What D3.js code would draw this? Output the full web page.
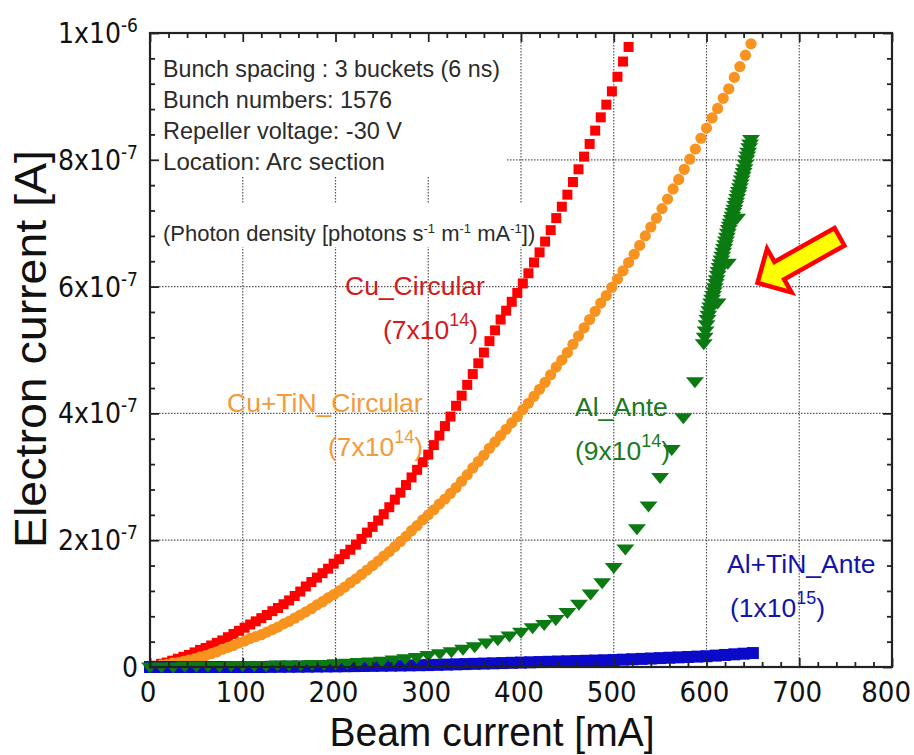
<!DOCTYPE html>
<html>
<head>
<meta charset="utf-8">
<script src="https://cdn.jsdelivr.net/npm/d3@7"></script>
<style>
  html, body { margin: 0; padding: 0; background: #ffffff; }
  svg { display: block; }
</style>
</head>
<body>
<svg id="chart" width="914" height="755"></svg>
<script>
// ---------------------------------------------------------------
// Electron current vs. beam current (values in units of 1e-7 A)
// ---------------------------------------------------------------

// Cu_Circular (red squares)
const cuCircularX = [0,6,12,18,24,30,36,42,48,54,60,66,72,78,84,90,96,102,108,114,120,126,132,138,144,150,156,162,168,174,180,186,192,198,204,210,216,222,228,234,240,246,252,258,264,270,276,282,288,294,300,306,312,318,324,330,336,342,348,354,360,366,372,378,384,390,396,402,408,414,420,426,432,438,444,450,456,462,468,474,480,486,492,498,504,510,516];
const cuCircularY = [0,0.02,0.05,0.07,0.10,0.13,0.16,0.19,0.23,0.27,0.30,0.34,0.38,0.42,0.47,0.52,0.57,0.62,0.67,0.72,0.77,0.82,0.88,0.93,0.99,1.05,1.12,1.19,1.27,1.34,1.41,1.48,1.55,1.63,1.70,1.78,1.85,1.93,2.02,2.12,2.21,2.31,2.41,2.52,2.64,2.75,2.87,2.99,3.11,3.23,3.35,3.50,3.65,3.80,3.95,4.12,4.28,4.45,4.62,4.79,4.96,5.14,5.31,5.48,5.62,5.76,5.90,6.05,6.21,6.38,6.54,6.71,6.89,7.08,7.26,7.45,7.65,7.85,8.05,8.25,8.46,8.67,8.87,9.08,9.31,9.55,9.78];

// Cu+TiN_Circular (orange circles)
const cuTinCircularX = [0,6,12,18,24,30,36,42,48,54,60,66,72,78,84,90,96,102,108,114,120,126,132,138,144,150,156,162,168,174,180,186,192,198,204,210,216,222,228,234,240,246,252,258,264,270,276,282,288,294,300,306,312,318,324,330,336,342,348,354,360,366,372,378,384,390,396,402,408,414,420,426,432,438,444,450,456,462,468,474,480,486,492,498,504,510,516,522,528,534,540,546,552,558,564,570,576,582,588,594,600,606,612,618,624,630,636,642,648];
const cuTinCircularY = [0,0.01,0.03,0.04,0.06,0.07,0.09,0.11,0.13,0.16,0.18,0.21,0.24,0.28,0.31,0.34,0.38,0.41,0.45,0.48,0.51,0.55,0.59,0.63,0.68,0.72,0.77,0.82,0.87,0.92,0.98,1.03,1.09,1.14,1.20,1.26,1.33,1.39,1.46,1.53,1.60,1.67,1.75,1.82,1.90,1.98,2.06,2.15,2.23,2.32,2.40,2.48,2.57,2.65,2.74,2.83,2.93,3.03,3.14,3.24,3.34,3.45,3.55,3.65,3.75,3.85,3.95,4.06,4.16,4.27,4.38,4.49,4.61,4.73,4.84,4.96,5.09,5.22,5.35,5.48,5.61,5.74,5.86,5.99,6.12,6.25,6.38,6.51,6.65,6.80,6.94,7.08,7.23,7.38,7.54,7.69,7.85,8.01,8.17,8.34,8.50,8.66,8.81,8.97,9.12,9.30,9.47,9.65,9.83];

// Al_Ante (green down-triangles): ramp, then a dense run above 598 mA
const alAnteX = [0,12.5,25,37.5,50,62.5,75,87.5,100,112.5,125,137.5,150,162.5,175,187.5,200,212.5,225,237.5,250,262.5,275,287.5,300,312.5,325,337.5,350,362.5,375,387.5,400,412.5,425,437.5,450,462.5,475,487.5,500,512.5,525,537.5,550,562.5,575,587.5,597,
  598,599,600,601,602,603,604,605,606,607,608,609,610,611,612,613,614,615,616,617,618,619,620,621,622,623,624,625,626,627,628,629,630,631,632,633,634,635,636,637,638,639,640,641,642,643,644,645,646,647,648,
  612,623,633];
const alAnteY = [0,0,0,0.01,0.01,0.01,0.01,0.02,0.02,0.02,0.02,0.03,0.03,0.03,0.04,0.04,0.05,0.06,0.07,0.08,0.09,0.11,0.13,0.15,0.18,0.21,0.24,0.28,0.32,0.38,0.43,0.49,0.55,0.62,0.67,0.75,0.86,0.99,1.15,1.33,1.57,1.86,2.18,2.54,2.99,3.43,3.93,4.50,5.10,
  5.20,5.30,5.40,5.48,5.55,5.62,5.68,5.74,5.80,5.86,5.92,5.98,6.05,6.11,6.18,6.24,6.30,6.36,6.42,6.48,6.54,6.60,6.66,6.72,6.78,6.84,6.90,6.95,7.00,7.06,7.11,7.17,7.22,7.28,7.33,7.39,7.45,7.50,7.56,7.62,7.68,7.74,7.80,7.86,7.93,8.00,8.06,8.12,8.19,8.25,8.32,
  5.74,6.37,7.08];

// Al+TiN_Ante (blue squares)
const alTinAnteX = [0,10,20,30,40,50,60,70,80,90,100,110,120,130,140,150,160,170,180,190,200,210,220,230,240,250,260,270,280,290,300,310,320,330,340,350,360,370,380,390,400,410,420,430,440,450,460,470,480,490,500,510,520,530,540,550,560,570,580,590,600,610,620,630,640,650];
const alTinAnteY = [0,0,0,0,0,0,0,0,0,0,0,0,0,0.002,0.003,0.004,0.005,0.006,0.008,0.009,0.010,0.012,0.014,0.016,0.018,0.020,0.022,0.024,0.026,0.028,0.030,0.034,0.038,0.042,0.046,0.050,0.054,0.058,0.062,0.066,0.070,0.074,0.078,0.082,0.086,0.090,0.094,0.098,0.102,0.106,0.110,0.116,0.122,0.128,0.134,0.140,0.146,0.152,0.158,0.164,0.170,0.180,0.190,0.200,0.210,0.220];

// Axis ticks and labels
const xTickValues = [0,100,200,300,400,500,600,700,800];
const xTickLabels = ["0","100","200","300","400","500","600","700","800"];
const yTickValues = [0,2,4,6,8,10];
const yTickMantissa = ["0","2x10","4x10","6x10","8x10","1x10"];
const yTickExponent = ["","-7","-7","-7","-7","-6"];

// Condition notes
const noteLines = ["Bunch spacing : 3 buckets (6 ns)", "Bunch numbers: 1576", "Repeller voltage: -30 V", "Location: Arc section"];

// ---------------------------------------------------------------
const svg = d3.select("#chart");
const plot = { left: 150, right: 892, top: 33, bottom: 667 };
const sans = "'Liberation Sans', Arial, Helvetica, sans-serif";
const narrow = "'Liberation Sans Narrow', 'Arial Narrow', 'DejaVu Sans Condensed', sans-serif";

const x = d3.scaleLinear().domain([0, 800]).range([plot.left, plot.right]);
const y = d3.scaleLinear().domain([0, 10]).range([plot.bottom, plot.top]);

svg.append("rect").attr("width", 914).attr("height", 755).attr("fill", "#fff");

// dotted grid at the major ticks
const grid = svg.append("g")
  .attr("stroke", "#555").attr("stroke-width", 1.2).attr("stroke-dasharray", "1.5,1.5");
grid.selectAll("line.gx").data(xTickValues.slice(1, -1)).join("line")
  .attr("x1", d => x(d)).attr("x2", d => x(d))
  .attr("y1", plot.top).attr("y2", plot.bottom);
grid.selectAll("line.gy").data(yTickValues.slice(1, -1)).join("line")
  .attr("y1", d => y(d)).attr("y2", d => y(d))
  .attr("x1", plot.left).attr("x2", plot.right);

// white panels behind the note text
svg.append("rect").attr("x", plot.left + 1).attr("y", plot.top + 1)
  .attr("width", 355).attr("height", 143).attr("fill", "#fff");
svg.append("rect").attr("x", plot.left + 1).attr("y", 204)
  .attr("width", 385).attr("height", 43).attr("fill", "#fff");

// notes
const notes = svg.append("g").attr("font-family", sans).attr("fill", "#2b2b2b");
const noteWidths = [337, 229, 239, 222];
notes.selectAll("text.note").data(noteLines).join("text")
  .attr("x", 163).attr("y", (d, i) => 77 + i * 31)
  .attr("font-size", 24)
  .attr("textLength", (d, i) => noteWidths[i])
  .attr("lengthAdjust", "spacingAndGlyphs")
  .text(d => d);

const photon = notes.append("text").attr("x", 163).attr("y", 241).attr("font-size", 22);
photon.append("tspan").text("(Photon density [photons s");
photon.append("tspan").attr("dy", -8).attr("font-size", 13).text("-1");
photon.append("tspan").attr("dy", 8).text(" m");
photon.append("tspan").attr("dy", -8).attr("font-size", 13).text("-1");
photon.append("tspan").attr("dy", 8).text(" mA");
photon.append("tspan").attr("dy", -8).attr("font-size", 13).text("-1");
photon.append("tspan").attr("dy", 8).text("])");

// ---------------- series ----------------
const zip = (xs, ys) => xs.map((v, i) => ({ x: v, y: ys[i] }));

svg.append("g").attr("fill", "#ff0000")
  .selectAll("rect").data(zip(cuCircularX, cuCircularY)).join("rect")
  .attr("x", d => x(d.x) - 5).attr("y", d => y(d.y) - 5)
  .attr("width", 10).attr("height", 10);

svg.append("g").attr("fill", "#f7931e")
  .selectAll("circle").data(zip(cuTinCircularX, cuTinCircularY)).join("circle")
  .attr("cx", d => x(d.x)).attr("cy", d => y(d.y)).attr("r", 5.6);

svg.append("g").attr("fill", "#0a0ac8")
  .selectAll("rect").data(zip(alTinAnteX, alTinAnteY)).join("rect")
  .attr("x", d => x(d.x) - 6).attr("y", d => y(d.y) - 6)
  .attr("width", 12).attr("height", 12);

svg.append("g").attr("fill", "#0b7a12")
  .selectAll("path").data(zip(alAnteX, alAnteY)).join("path")
  .attr("transform", d => `translate(${x(d.x)},${y(d.y)})`)
  .attr("d", "M-9,-4.5 L9,-4.5 L0,6.5 Z");

// ---------------- series labels ----------------
function label(px, py, name, exp, color, nameX) {
  const g = svg.append("g").attr("font-family", sans).attr("font-size", 26.5).attr("fill", color);
  g.append("text").attr("x", nameX).attr("y", py).text(name);
  const t = g.append("text").attr("x", px).attr("y", py + 44);
  t.append("tspan").text("(" + exp[0]);
  t.append("tspan").attr("dy", -13).attr("font-size", 18).text(exp[1]);
  t.append("tspan").attr("dy", 13).text(")");
}
label(383, 295, "Cu_Circular", ["7x10", "14"], "#d21a1a", 345);
label(328, 412, "Cu+TiN_Circular", ["7x10", "14"], "#f39a3a", 227);
label(575, 416, "Al_Ante", ["9x10", "14"], "#1b7a22", 575);
label(730, 573, "Al+TiN_Ante", ["1x10", "15"], "#1414a8", 727);

// ---------------- axes (inward ticks on all four sides) ----------------
const xMinor = d3.range(0, 801, 20).filter(v => v % 100 !== 0);
const yMinor = d3.range(0, 10.01, 0.4).filter(v => Math.abs(v / 2 - Math.round(v / 2)) > 1e-6);

function tickGroup(axis, transform) {
  svg.append("g").attr("transform", transform).call(axis)
    .call(g => g.select(".domain").remove())
    .call(g => g.selectAll(".tick line").attr("stroke", "#222").attr("stroke-width", 1.8))
    .call(g => g.selectAll(".tick text").remove());
}
tickGroup(d3.axisBottom(x).tickValues(xMinor).tickSize(-5), `translate(0,${plot.bottom})`);
tickGroup(d3.axisBottom(x).tickValues(xTickValues).tickSize(-9), `translate(0,${plot.bottom})`);
tickGroup(d3.axisTop(x).tickValues(xMinor).tickSize(-5), `translate(0,${plot.top})`);
tickGroup(d3.axisTop(x).tickValues(xTickValues).tickSize(-9), `translate(0,${plot.top})`);
tickGroup(d3.axisLeft(y).tickValues(yMinor).tickSize(-5), `translate(${plot.left},0)`);
tickGroup(d3.axisLeft(y).tickValues(yTickValues).tickSize(-9), `translate(${plot.left},0)`);
tickGroup(d3.axisRight(y).tickValues(yMinor).tickSize(-5), `translate(${plot.right},0)`);
tickGroup(d3.axisRight(y).tickValues(yTickValues).tickSize(-9), `translate(${plot.right},0)`);

// frame
svg.append("rect").attr("x", plot.left).attr("y", plot.top)
  .attr("width", plot.right - plot.left).attr("height", plot.bottom - plot.top)
  .attr("fill", "none").attr("stroke", "#222").attr("stroke-width", 2.2);

// tick labels
const xLab = svg.append("g").attr("font-family", narrow).attr("font-size", 29).attr("fill", "#111");
xLab.selectAll("text").data(xTickValues).join("text")
  .attr("x", d => x(d) - 2).attr("y", 702)
  .attr("text-anchor", "middle")
  .text((d, i) => xTickLabels[i])
  .each(function () {
    const w = this.getComputedTextLength();
    const cx = +this.getAttribute("x");
    if (cx + w / 2 > 911) this.setAttribute("x", 911 - w / 2);
  });

const yLab = svg.append("g").attr("font-family", narrow).attr("font-size", 28).attr("fill", "#111");
yTickValues.forEach((v, i) => {
  const t = yLab.append("text").attr("x", 138).attr("y", y(v) + 10).attr("text-anchor", "end");
  t.append("tspan").text(yTickMantissa[i]);
  if (yTickExponent[i]) t.append("tspan").attr("dy", -11).attr("font-size", 19).text(yTickExponent[i]);
});

// axis titles
svg.append("text").attr("font-family", sans).attr("font-size", 41.5).attr("fill", "#111")
  .attr("x", 492).attr("y", 746).attr("text-anchor", "middle")
  .attr("textLength", 325).attr("lengthAdjust", "spacingAndGlyphs")
  .text("Beam current [mA]");
svg.append("text").attr("font-family", sans).attr("font-size", 44).attr("fill", "#111")
  .attr("transform", "translate(46,349) rotate(-90)").attr("text-anchor", "middle")
  .attr("textLength", 398).attr("lengthAdjust", "spacingAndGlyphs")
  .text("Electron current [A]");

// highlight arrow pointing at the Al_Ante rise
const arrowTip = { x: 655, y: 6.06 };
const arrowShape = [[0,0],[25,-25],[25,-10],[94,-10],[94,10],[25,10],[25,25]];
svg.append("polygon")
  .attr("points", arrowShape.map(p => p.join(",")).join(" "))
  .attr("transform", `translate(${x(arrowTip.x)},${y(arrowTip.y)}) rotate(-29.3)`)
  .attr("fill", "#ffff00").attr("stroke", "#ff0000").attr("stroke-width", 4.5)
  .attr("stroke-linejoin", "miter");
</script>
</body>
</html>
